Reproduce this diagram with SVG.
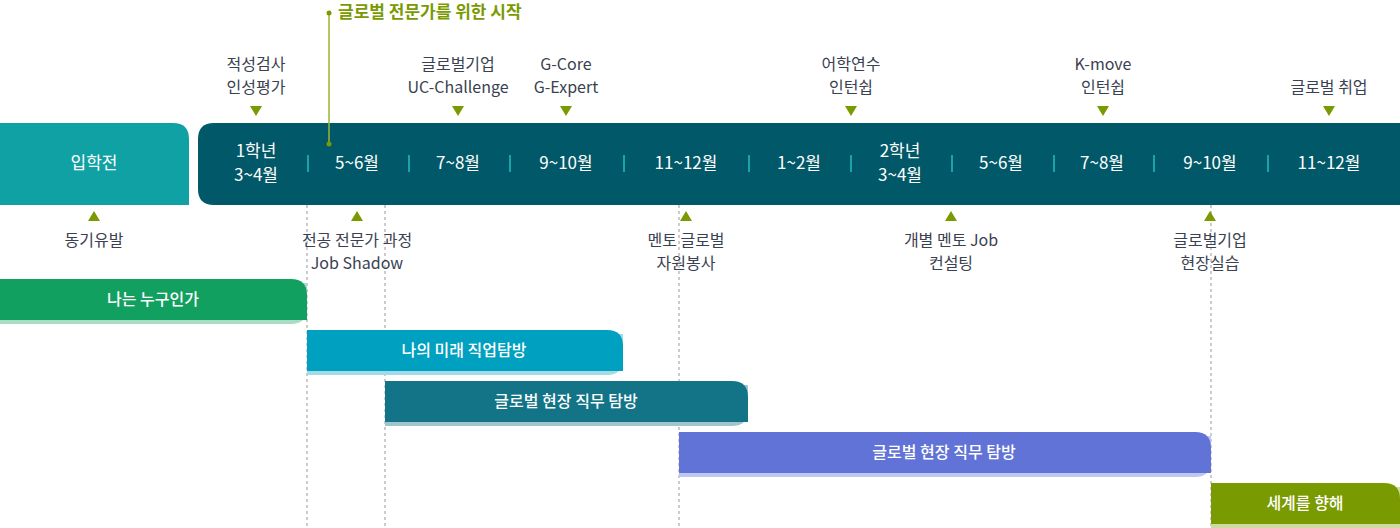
<svg xmlns="http://www.w3.org/2000/svg" width="1400" height="528" viewBox="0 0 1400 528">
<style>
text{font-family:"Noto Sans CJK KR","Noto Sans",sans-serif}
.m{fill:#fff;font-size:17px;text-anchor:middle}
.l{fill:#3a4150;font-size:16px;text-anchor:middle}
.b{fill:#fff;font-size:16px;font-weight:500;text-anchor:middle}
.sep{stroke:#1aa3a8;stroke-width:2}
.dash{stroke:#999;stroke-width:1;stroke-dasharray:3 3}
.tri{fill:#7a9a01}
</style>
<rect width="1400" height="528" fill="#fff"/>
<g id="connectors">
<line class="dash" x1="307" y1="205" x2="307" y2="528"/>
<line class="dash" x1="385" y1="205" x2="385" y2="528"/>
<line class="dash" x1="679" y1="205" x2="679" y2="528"/>
<line class="dash" x1="1211" y1="205" x2="1211" y2="528"/>
</g>
<g id="pre"><path d="M0 123H173Q189 123 189 139V205H0Z" fill="#10a1a4"/><text class="m" x="94" y="169">입학전</text></g>
<g id="band">
<path d="M214 123H1400V205H214Q198 205 198 189V139Q198 123 214 123Z" fill="#015868"/>
<g class="sep"><line x1="308" y1="155" x2="308" y2="172"/><line x1="409" y1="155" x2="409" y2="172"/><line x1="510" y1="155" x2="510" y2="172"/><line x1="624" y1="155" x2="624" y2="172"/><line x1="749" y1="155" x2="749" y2="172"/><line x1="851" y1="155" x2="851" y2="172"/><line x1="952" y1="155" x2="952" y2="172"/><line x1="1054" y1="155" x2="1054" y2="172"/><line x1="1154" y1="155" x2="1154" y2="172"/><line x1="1268" y1="155" x2="1268" y2="172"/></g>
<text class="m" x="256" y="157">1학년</text><text class="m" x="256" y="181">3~4월</text>
<text class="m" x="357" y="169">5~6월</text>
<text class="m" x="458" y="169">7~8월</text>
<text class="m" x="566" y="169">9~10월</text>
<text class="m" x="686" y="169">11~12월</text>
<text class="m" x="799" y="169">1~2월</text>
<text class="m" x="900" y="157">2학년</text><text class="m" x="900" y="181">3~4월</text>
<text class="m" x="1001" y="169">5~6월</text>
<text class="m" x="1102" y="169">7~8월</text>
<text class="m" x="1210" y="169">9~10월</text>
<text class="m" x="1329" y="169">11~12월</text>
</g>
<g id="callout">
<line x1="329" y1="13" x2="329" y2="144" stroke="#9ab530" stroke-width="1.5"/>
<circle cx="329" cy="13" r="2.5" fill="#7a9a01"/><circle cx="329" cy="144" r="2.5" fill="#7a9a01"/>
<text x="338" y="18" fill="#7a9a01" font-size="17" font-weight="bold">글로벌 전문가를 위한 시작</text>
</g>
<g id="top-labels">
<text class="l" x="256" y="70">적성검사</text><text class="l" x="256" y="93">인성평가</text>
<text class="l" x="458" y="70">글로벌기업</text><text class="l" x="458" y="93">UC-Challenge</text>
<text class="l" x="566" y="70">G-Core</text><text class="l" x="566" y="93">G-Expert</text>
<text class="l" x="851" y="70">어학연수</text><text class="l" x="851" y="93">인턴쉽</text>
<text class="l" x="1103" y="70">K-move</text><text class="l" x="1103" y="93">인턴쉽</text>
<text class="l" x="1329" y="93">글로벌 취업</text>
<g class="tri">
<path d="M250 106h12l-6 10z"/><path d="M452 106h12l-6 10z"/><path d="M560 106h12l-6 10z"/><path d="M845 106h12l-6 10z"/><path d="M1097 106h12l-6 10z"/><path d="M1323 106h12l-6 10z"/>
</g>
</g>
<g id="bottom-labels">
<g class="tri">
<path d="M88 221h12l-6-10z"/><path d="M351 221h12l-6-10z"/><path d="M680 221h12l-6-10z"/><path d="M945 221h12l-6-10z"/><path d="M1204 221h12l-6-10z"/>
</g>
<text class="l" x="94" y="246">동기유발</text>
<text class="l" x="357" y="246">전공 전문가 과정</text><text class="l" x="357" y="269">Job Shadow</text>
<text class="l" x="686" y="246">멘토 글로벌</text><text class="l" x="686" y="269">자원봉사</text>
<text class="l" x="951" y="246">개별 멘토 Job</text><text class="l" x="951" y="269">컨설팅</text>
<text class="l" x="1210" y="246">글로벌기업</text><text class="l" x="1210" y="269">현장실습</text>
</g>
<g id="bar1"><path d="M0 283H307V308Q307 324 291 324H0Z" fill="#a8dcc5"/><path d="M0 279H291Q307 279 307 295V320H0Z" fill="#12a060"/><text class="b" x="153" y="305">나는 누구인가</text></g>
<g id="bar2"><path d="M307 334H623V359Q623 375 607 375H307Z" fill="#a0dbe6"/><path d="M307 330H607Q623 330 623 346V371H307Z" fill="#00a0c0"/><text class="b" x="464" y="356">나의 미래 직업탐방</text></g>
<g id="bar3"><path d="M385 385H748V410Q748 426 732 426H385Z" fill="#a0c6cc"/><path d="M385 381H732Q748 381 748 397V422H385Z" fill="#137488"/><text class="b" x="566" y="407">글로벌 현장 직무 탐방</text></g>
<g id="bar4"><path d="M679 436H1211V461Q1211 477 1195 477H679Z" fill="#c0c6f0"/><path d="M679 432H1195Q1211 432 1211 448V473H679Z" fill="#6173d6"/><text class="b" x="944" y="458">글로벌 현장 직무 탐방</text></g>
<g id="bar5"><path d="M1211 487H1400V528H1211Z" fill="#cddba0"/><path d="M1211 483H1384Q1400 483 1400 499V524H1211Z" fill="#7a9a01"/><text class="b" x="1305" y="509">세계를 향해</text></g>
</svg>
